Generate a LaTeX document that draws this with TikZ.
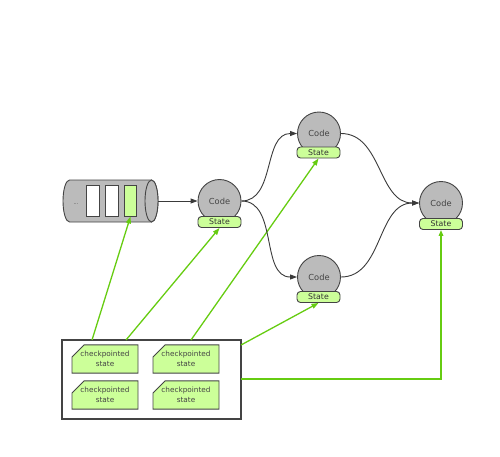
\documentclass[tikz,border=0pt]{standalone}
\usepackage{fontspec}
\setmainfont{DejaVu Sans}
\usetikzlibrary{arrows.meta,shapes.misc,positioning}
\definecolor{grayfill}{HTML}{BBBBBB}
\definecolor{edge}{HTML}{444444}
\definecolor{lightgreen}{HTML}{CCFF99}
\definecolor{linegreen}{HTML}{66CC11}
\definecolor{conn}{HTML}{3A3A3A}
\definecolor{txt}{HTML}{444444}
\tikzset{
  codenode/.style={circle, draw=edge, fill=grayfill, line width=0.9pt, minimum size=43pt, inner sep=0pt, text=txt, font=\fontsize{8.3}{9}\selectfont},
  statenode/.style={rectangle, rounded corners=3.5pt, draw=edge, fill=lightgreen, line width=0.9pt, minimum width=43pt, minimum height=11pt, inner sep=0pt, text=black!80, font=\fontsize{7.8}{8}\selectfont},
  slot/.style={rectangle, draw=edge, line width=0.9pt, minimum width=12.5pt, minimum height=31pt, inner sep=0pt},
  notenode/.style={chamfered rectangle, chamfered rectangle corners=north west, chamfered rectangle xsep=6pt, chamfered rectangle ysep=6pt, draw=edge, fill=lightgreen, line width=0.9pt, minimum width=66pt, minimum height=24pt, inner sep=0pt, align=center, text=txt, font=\fontsize{7.3}{10.5}\selectfont},
  flow/.style={draw=conn, line width=0.9pt, -{Triangle[length=7pt,width=5pt]}},
  ckpt/.style={draw=linegreen, line width=1.3pt, -{Triangle[length=7pt,width=5pt]}},
  ckptelbow/.style={draw=linegreen, line width=2pt, -{Triangle[length=6pt,width=4.5pt]}}
}
\begin{document}
\begin{tikzpicture}[x=1pt,y=-1pt]
\useasboundingbox (0,0) rectangle (500,456);
% cylinder
\path[draw=edge, fill=grayfill, line width=0.9pt]
  (151.5,180) -- (69.5,180) arc[start angle=-90, end angle=-270, x radius=6.5, y radius=21] -- (151.5,222) arc[start angle=90, end angle=-90, x radius=6.5, y radius=21];
\path[draw=edge, fill=grayfill, line width=0.9pt] (151.5,201) ellipse[x radius=6.5, y radius=21];
\node[text=txt, font=\fontsize{5}{6}\selectfont] (dots) at (76,204) {...};
\node[slot, fill=white] (q1) at (93,200.5) {};
\node[slot, fill=white] (q2) at (112,200.5) {};
\node[slot, fill=lightgreen] (q3) at (130.5,200.5) {};
\coordinate (cylR) at (158,201);
% code nodes
\node[codenode] (c1) at (219.5,201) {Code};
\node[statenode] (s1) at (219.5,222) {State};
\node[codenode] (c2) at (319,133.5) {Code};
\node[statenode] (s2) at (318.5,152.5) {State};
\node[codenode] (c3) at (319,277) {Code};
\node[statenode] (s3) at (318.5,297) {State};
\node[codenode] (c4) at (441,203) {Code};
\node[statenode] (s4) at (441,224) {State};
% checkpoint box
\node[rectangle, draw=edge, fill=white, line width=1.2pt, minimum width=179pt, minimum height=79pt, inner sep=0pt] (box) at (151.5,379.5) {};
\node[notenode] (n1) at (105,359) {checkpointed\\state};
\node[notenode] (n2) at (186,359) {checkpointed\\state};
\node[notenode] (n3) at (105,395) {checkpointed\\state};
\node[notenode] (n4) at (186,395) {checkpointed\\state};
\coordinate (b1) at (92,340);
\coordinate (b2) at (126,340);
\coordinate (b3) at (191,340);
\coordinate (b4) at (241,345);
\coordinate (b5) at (241,379);
% checkpoint connectors
\draw[ckptelbow] (b5) -| (s4.south);
\draw[ckpt] (b1) -- (q3.south);
\draw[ckpt] (b2) -- (s1.south);
\draw[ckpt] (b3) -- (s2.south);
\draw[ckpt] (b4) -- (s3.south);
% flow connectors
\draw[flow] (cylR) -- (c1.west);
\draw[flow] (c1.east) to[out=0,in=180] (c2.west);
\draw[flow] (c1.east) to[out=0,in=180] (c3.west);
\draw[flow] (c2.east) to[out=0,in=180] (c4.west);
\draw[flow] (c3.east) to[out=0,in=180] (c4.west);
\end{tikzpicture}
\end{document}
